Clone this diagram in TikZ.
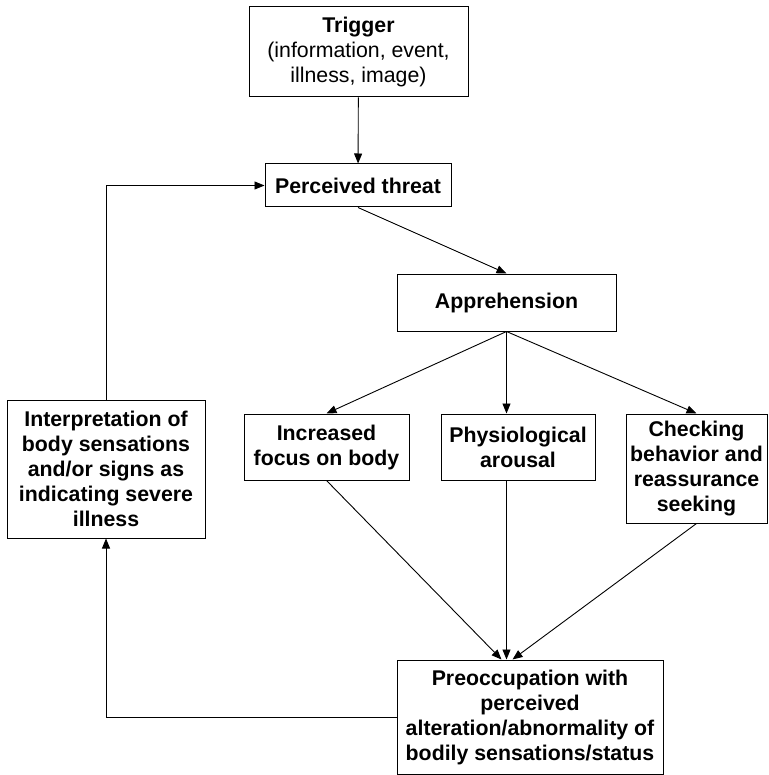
\documentclass[tikz,border=0pt]{standalone}
\usepackage{fontspec}
\setmainfont{Liberation Sans}
\usetikzlibrary{arrows.meta}

\tikzset{
  box/.style={draw, line width=1pt, align=center, inner sep=0pt,
    font=\fontsize{21.3}{25}\selectfont\bfseries},
  link/.style={line width=0.9pt, -{Triangle[length=10pt,width=8pt]}},
}

\begin{document}
\begin{tikzpicture}[x=1pt,y=-1pt]
            \useasboundingbox (0,0) rectangle (768,775);
            % boxes
            \node[box, font=\fontsize{21.3}{25}\selectfont, minimum width=219pt, minimum height=90pt] (trigger) at (358.5,52)
              {\textbf{Trigger}\\(information, event,\\illness, image)};
            \node[box, minimum width=186pt, minimum height=43pt] (threat) at (358,185.5) {Perceived threat};
            \node[box, minimum width=219pt, minimum height=57pt] (appr) at (506.5,302.5) {Apprehension};
            \node[box, minimum width=198pt, minimum height=138pt] (interp) at (106,469)
              {Interpretation of\\body sensations\\and/or signs as\\indicating severe\\illness};
            \node[box, minimum width=165pt, minimum height=66pt] (focus) at (326.5,447) {Increased\\focus on body};
            \node[box, minimum width=154pt, minimum height=66pt] (physio) at (518,447) {Physiological\\arousal};
            \node[box, minimum width=141pt, minimum height=109pt] (check) at (696.5,468.5)
              {Checking\\behavior and\\reassurance\\seeking};
            \node[box, minimum width=266pt, minimum height=114pt] (preocc) at (530,717)
              {Preoccupation with\\perceived\\alteration/abnormality of\\bodily sensations/status};
            \coordinate (conv) at (appr.south |- preocc.north);
            % arrows
            \draw[link] (trigger) -- (threat);
            \draw[link] (threat.south) -- (appr.north);
            \draw[link] (appr.south) -- (focus.north);
            \draw[link] (appr.south) -- (appr.south |- physio.north);
            \draw[link] (appr.south) -- (check.north);
            \draw[link] (focus.south) -- ([xshift=-5pt]conv);
            \draw[link] (appr.south |- physio.south) -- (conv);
            \draw[link] (check.south) -- ([xshift=6pt]conv);
            \draw[link] (preocc.west) -| (interp.south);
            \draw[link] (interp.north) |- (threat.west);
\end{tikzpicture}
\end{document}
